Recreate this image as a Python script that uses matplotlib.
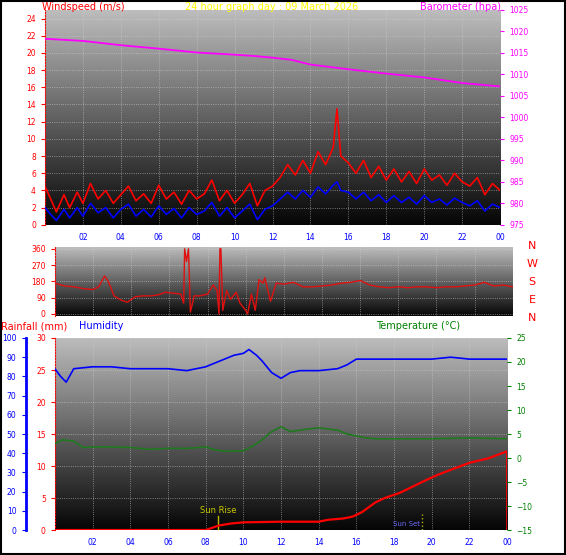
import numpy as np
import matplotlib
matplotlib.use("Agg")
import matplotlib.pyplot as plt
from matplotlib.colors import LinearSegmentedColormap

# ---------------- data ----------------
hour_ticks = [2, 4, 6, 8, 10, 12, 14, 16, 18, 20, 22, 24]
hour_labels = ["02", "04", "06", "08", "10", "12", "14", "16", "18", "20", "22", "00"]

wind_t = [0, 0.3, 0.6, 1, 1.3, 1.7, 2, 2.4, 2.8, 3.2, 3.6, 4, 4.4, 4.8, 5.2, 5.6, 6, 6.4, 6.8, 7.2, 7.6, 8,
          8.4, 8.8, 9.2, 9.6, 10, 10.4, 10.8, 11.2, 11.6, 12, 12.4, 12.8, 13.2, 13.6, 14, 14.4, 14.8, 15.2,
          15.4, 15.6, 16, 16.4, 16.8, 17.2, 17.6, 18, 18.4, 18.8, 19.2, 19.6, 20, 20.4, 20.8, 21.2, 21.6,
          22, 22.4, 22.8, 23.2, 23.6, 24]
gust = [4.5, 3, 1.5, 3.5, 2, 3.8, 2.5, 4.8, 3, 4, 2.5, 3.5, 4.5, 2.8, 3.6, 2.5, 4.6, 3, 3.8, 2.4, 4, 3,
        3.6, 5.2, 2.8, 4, 2.5, 3.5, 4.8, 2.2, 4, 4.5, 5.5, 7, 5.8, 7.5, 6, 8.5, 7, 9,
        13.5, 8, 7.2, 6, 7.5, 5.5, 6.8, 5.2, 6.5, 5, 6.2, 4.8, 6.5, 5.2, 5.8, 4.6, 6,
        5, 4.5, 5.5, 3.5, 4.8, 4]
avg = [2, 1.2, 0.5, 1.8, 0.8, 2, 1, 2.5, 1.4, 2, 0.8, 1.8, 2.4, 1, 1.8, 0.9, 2.2, 1.2, 1.9, 0.8, 2, 1.2,
       1.6, 2.6, 1, 2, 0.8, 1.6, 2.4, 0.6, 1.8, 2.2, 3, 3.8, 3, 4, 3.2, 4.4, 3.6, 4.6,
       5, 4, 3.8, 3, 3.8, 2.8, 3.5, 2.6, 3.4, 2.6, 3.2, 2.4, 3.4, 2.6, 3, 2.3, 3.1,
       2.6, 2.2, 2.8, 1.6, 2.4, 2]
baro_t = [0, 2, 4, 6, 8, 10, 11, 12, 13, 14, 16, 18, 20, 22, 24]
baro = [1018.3, 1017.8, 1016.8, 1016, 1015.1, 1014.6, 1014.3, 1013.9, 1013.4, 1012.3, 1011.2, 1010.2, 1009.3, 1008, 1007.2]

dir_t = [0, 0.5, 1, 1.5, 2, 2.3, 2.6, 2.8, 3.1, 3.5, 3.8, 4.2, 4.6, 5, 5.4, 5.8, 6.2, 6.6, 6.75, 6.8, 6.9, 7.0,
         7.05, 7.1, 7.3, 7.6, 8, 8.3, 8.5, 8.6, 8.65, 8.7, 8.8, 9, 9.2, 9.5, 9.7, 10, 10.1, 10.3, 10.5, 10.7,
         10.9, 11, 11.1, 11.3, 11.6, 12, 12.5, 13, 13.5, 14, 14.5, 15, 15.5, 16, 16.5, 17, 17.5, 18, 18.5,
         19, 19.5, 20, 20.5, 21, 21.5, 22, 22.5, 23, 23.5, 24]
wdir = [170, 155, 150, 140, 135, 150, 210, 180, 100, 75, 65, 95, 100, 100, 105, 120, 115, 110, 60, 360, 290, 360,
        200, 10, 100, 100, 110, 160, 130, 0, 360, 360, 20, 130, 80, 120, 60, 20, 0, 110, 20, 190,
        170, 200, 160, 70, 170, 165, 175, 150, 150, 155, 160, 170, 175, 185, 160, 150, 145, 150, 145,
        150, 150, 145, 150, 150, 155, 160, 175, 155, 160, 150]

hum_t = [0, 0.3, 0.6, 1, 2, 3, 4, 5, 6, 7, 8, 8.5, 9, 9.5, 10, 10.3, 10.7, 11, 11.5, 12, 12.5, 13, 14, 15, 15.5, 16, 17, 18, 19, 20, 21, 22, 23, 24]
hum = [84, 80, 77, 84, 85, 85, 84, 84, 84, 83, 85, 87, 89, 91, 92, 94, 91, 88, 82, 79, 82, 83, 83, 84, 86, 89, 89, 89, 89, 89, 90, 89, 89, 89]
temp_t = [0, 0.4, 1, 1.5, 2, 3, 4, 5, 6, 7, 8, 8.5, 9, 10, 10.5, 11, 11.5, 12, 12.5, 13, 14, 15, 15.5, 16, 16.5, 17, 18, 20, 22, 24]
temp = [3, 3.8, 3.5, 2.2, 2.3, 2.3, 2.2, 1.8, 2.0, 2.0, 2.3, 1.7, 1.4, 1.5, 2.5, 3.8, 5.5, 6.5, 5.5, 5.8, 6.3, 5.8, 5.0, 4.6, 4.2, 4.0, 4.0, 4.0, 4.2, 4.0]
rain_t = [0, 8, 8.3, 8.7, 9.3, 10, 12, 14, 14.5, 15.3, 15.8, 16.3, 17, 17.5, 18.3, 19, 19.7, 20.3, 21, 22, 23, 24, 24.01]
rain = [0, 0, 0.3, 0.7, 1.0, 1.2, 1.3, 1.3, 1.6, 1.8, 2.1, 2.8, 4.3, 5.0, 5.8, 6.8, 7.8, 8.6, 9.4, 10.5, 11.2, 12.3, 0]
sunrise = 8.65
sunset = 19.5

# ---------------- drawing ----------------
fig = plt.figure(figsize=(5.66, 5.55), dpi=100)
fig.patch.set_facecolor("white")
fig.add_artist(plt.Rectangle((0.002, 0.002), 0.996, 0.996, transform=fig.transFigure,
                             fill=False, ec="black", lw=1.5))

cmap = LinearSegmentedColormap.from_list("g", ["#050505", "#bdbdbd"])
grad = np.linspace(0, 1, 256).reshape(-1, 1)

def bg(ax, ymin, ymax):
    ax.imshow(grad, cmap=cmap, origin="lower", extent=[0, 24, ymin, ymax], aspect="auto", zorder=0)
    ax.set_xlim(0, 24)
    ax.set_ylim(ymin, ymax)
    ax.set_xticks(hour_ticks)
    ax.grid(True, color="#d0d0d0", ls=":", lw=0.6, alpha=0.7)
    for s in ax.spines.values():
        s.set_visible(False)

fs = 5.5
# ---- top panel ----
ax1 = fig.add_axes([0.0795, 0.595, 0.804, 0.387])
bg(ax1, 0, 25)
ax1.set_yticks(range(0, 25, 2))
ax1.tick_params(axis="y", colors="red", labelsize=fs, length=3)
ax1.spines["left"].set_visible(True)
ax1.spines["left"].set_color("red")
ax1.spines["left"].set_linestyle(":")
ax1.set_xticklabels(hour_labels)
ax1.tick_params(axis="x", colors="blue", labelsize=fs, length=0, pad=6)
ax1.plot(wind_t, gust, color="red", lw=1.2, zorder=3)
ax1.plot(wind_t, avg, color="blue", lw=1.2, zorder=4)
ax1b = ax1.twinx()
ax1b.set_ylim(975, 1025)
ax1b.set_yticks(range(975, 1026, 5))
ax1b.tick_params(axis="y", colors="#ff00ff", labelsize=fs, length=3)
for s in ax1b.spines.values():
    s.set_visible(False)
ax1b.plot(baro_t, baro, color="#ff00ff", lw=1.3)
fig.text(0.075, 0.988, "Windspeed (m/s)", color="red", fontsize=7, va="center", ha="left")
fig.text(0.48, 0.988, "24 hour graph day : 09 March 2026", color="yellow", fontsize=7, va="center", ha="center")
fig.text(0.885, 0.988, "Barometer (hpa)", color="#ff00ff", fontsize=7, va="center", ha="right")

# ---- direction panel ----
ax2 = fig.add_axes([0.097, 0.431, 0.809, 0.124])
bg(ax2, -10, 370)
ax2.set_yticks([0, 90, 180, 270, 360])
ax2.tick_params(axis="y", colors="red", labelsize=fs, length=3)
ax2.spines["left"].set_visible(True)
ax2.spines["left"].set_color("red")
ax2.spines["left"].set_linestyle(":")
ax2.set_xticklabels([])
ax2.tick_params(axis="x", length=0)
ax2.plot(dir_t, wdir, color="#e01010", lw=1.0, zorder=3)
for i, lab in enumerate(["N", "W", "S", "E", "N"]):
    fig.text(0.94, 0.557 - i * 0.0325, lab, color="red", fontsize=8, va="center", ha="center")

# ---- bottom panel ----
ax3 = fig.add_axes([0.097, 0.045, 0.799, 0.346])
bg(ax3, 0, 30)
ax3.set_yticks(range(0, 31, 5))
ax3.tick_params(axis="y", colors="red", labelsize=fs, length=3)
ax3.spines["left"].set_visible(True)
ax3.spines["left"].set_color("red")
ax3.spines["left"].set_linestyle(":")
ax3.set_xticklabels(hour_labels)
ax3.tick_params(axis="x", colors="blue", labelsize=fs, length=0, pad=6)
ax3.plot(rain_t, rain, color="red", lw=1.6, zorder=4)
ax3.axvline(sunrise, ymax=2.2 / 30, color="#b8b800", lw=1, zorder=3)
ax3.text(sunrise, 2.4, "Sun Rise", color="#c8c800", fontsize=6, ha="center", va="bottom", zorder=5)
ax3.axvline(sunset, ymax=2.5 / 30, color="#b8b800", lw=1, ls=":", zorder=3)
ax3.text(sunset - 0.1, 0.4, "Sun Set", color="#6a6aff", fontsize=5, ha="right", va="bottom", zorder=5)

axh = ax3.twinx()
axh.set_ylim(0, 100)
axh.set_yticks(range(0, 101, 10))
axh.yaxis.set_label_position("left")
axh.yaxis.tick_left()
for s in axh.spines.values():
    s.set_visible(False)
axh.spines["left"].set_visible(True)
axh.spines["left"].set_position(("axes", -0.065))
axh.spines["left"].set_color("blue")
axh.spines["left"].set_linewidth(2)
axh.tick_params(axis="y", colors="blue", labelsize=fs, length=3)
axh.plot(hum_t, hum, color="blue", lw=1.2)

axt = ax3.twinx()
axt.set_ylim(-15, 25)
axt.set_yticks(range(-15, 26, 5))
for s in axt.spines.values():
    s.set_visible(False)
axt.tick_params(axis="y", colors="green", labelsize=fs, length=3)
axt.plot(temp_t, temp, color="#1f7a1f", lw=1.2)

fig.text(0.002, 0.412, "Rainfall (mm)", color="red", fontsize=7, va="center", ha="left")
fig.text(0.14, 0.412, "Humidity", color="blue", fontsize=7, va="center", ha="left")
fig.text(0.665, 0.412, "Temperature (°C)", color="green", fontsize=7, va="center", ha="left")

fig.savefig("out.png", dpi=100)
